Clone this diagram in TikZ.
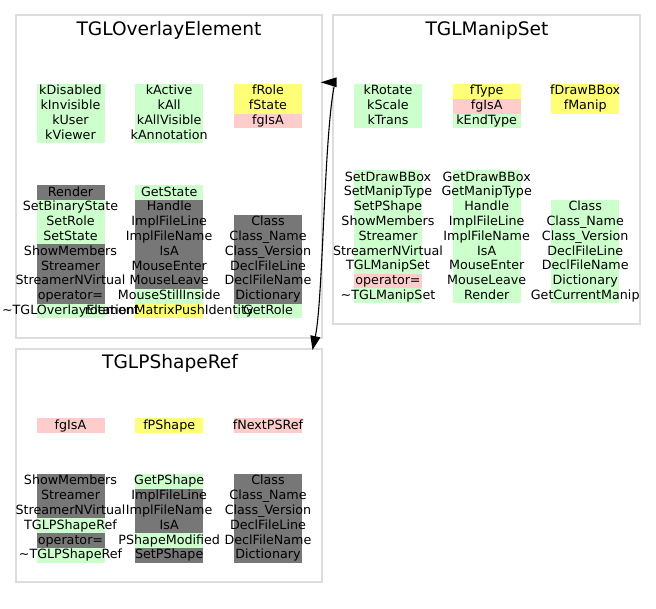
\documentclass[tikz,border=0pt]{standalone}
\usepackage{fontspec}
\setmainfont{DejaVu Sans}
\usetikzlibrary{arrows.meta,backgrounds}

\definecolor{cg}{HTML}{CCFFCC}
\definecolor{cy}{HTML}{FFFF77}
\definecolor{cp}{HTML}{FFCCCC}
\definecolor{cd}{HTML}{777777}
\definecolor{frame}{HTML}{DDDDDD}

\newcommand\memfont{\fontsize{12.7}{14.8}\selectfont}
\newcommand\ttlfont{\fontsize{18.6}{22}\selectfont}

\tikzset{
  classbox/.style={draw=frame, line width=1.3pt, fill=none},
  classtitle/.style={anchor=base, inner sep=0pt, font=\ttlfont},
  member/.style={anchor=base, inner sep=0pt, font=\memfont},
  link/.style={draw=black, line width=1.1pt},
}

% one column of members: #1 name prefix, #2 centre x, #3 top y, #4 colour/text rows
\newcommand\memcol[4]{%
  \foreach [count=\i] \c/\t in {#4} {
    \begin{scope}[on background layer]
      \fill[fill=c\c] ({#2-34},{#3+(\i-1)*14.8}) rectangle ({#2+34},{#3+\i*14.8});
    \end{scope}
    \node[member] (#1-\i) at (#2,{#3+(\i-1)*14.8+11}) {\t};
  }}

\begin{document}
\begin{tikzpicture}[x=1pt,y=-1pt]
\useasboundingbox (0,0) rectangle (656,609);

% class frames
\begin{scope}[on background layer]
  \draw[classbox] (16,15) rectangle (322,338);
  \draw[classbox] (333,15) rectangle (640,324);
  \draw[classbox] (16,349) rectangle (322,582);
\end{scope}

% ---------------- TGLOverlayElement ----------------
\node[classtitle] (oe-title) at (169,36) {TGLOverlayElement};
\memcol{oea}{70.5}{84}{g/kDisabled, g/kInvisible, g/kUser, g/kViewer}
\memcol{oeb}{169.2}{84}{g/kActive, g/kAll, g/kAllVisible, g/kAnnotation}
\memcol{oec}{268}{84}{y/fRole, y/fState, p/fgIsA}
\memcol{oed}{70.5}{185.2}{d/Render, g/SetBinaryState, g/SetRole, g/SetState,
  d/ShowMembers, d/Streamer, d/StreamerNVirtual, d/operator=,
  g/\textasciitilde TGLOverlayElement}
\memcol{oee}{169.2}{185.2}{g/GetState, d/Handle, d/ImplFileLine, d/ImplFileName,
  d/IsA, d/MouseEnter, d/MouseLeave, g/MouseStillInside,
  y/rotationMatrixPushIdentity}
\memcol{oef}{268}{214.8}{d/Class, d/Class\_Name, d/Class\_Version, d/DeclFileLine,
  d/DeclFileName, d/Dictionary, g/GetRole}

% ---------------- TGLManipSet ----------------
\node[classtitle] (ms-title) at (487,36) {TGLManipSet};
\memcol{msa}{388}{84}{g/kRotate, g/kScale, g/kTrans}
\memcol{msb}{486.7}{84}{y/fType, p/fgIsA, g/kEndType}
\memcol{msc}{585.2}{84}{y/fDrawBBox, y/fManip}
\memcol{msd}{388}{170.1}{g/SetDrawBBox, g/SetManipType, g/SetPShape, g/ShowMembers,
  g/Streamer, g/StreamerNVirtual, g/TGLManipSet, p/operator=,
  g/\textasciitilde TGLManipSet}
\memcol{mse}{486.7}{170.1}{g/GetDrawBBox, g/GetManipType, g/Handle, g/ImplFileLine,
  g/ImplFileName, g/IsA, g/MouseEnter, g/MouseLeave, g/Render}
\memcol{msf}{585.2}{199.7}{g/Class, g/Class\_Name, g/Class\_Version, g/DeclFileLine,
  g/DeclFileName, g/Dictionary, g/GetCurrentManip}

% ---------------- TGLPShapeRef ----------------
\node[classtitle] (ps-title) at (170,369) {TGLPShapeRef};
\memcol{psa}{70.5}{418}{p/fgIsA}
\memcol{psb}{169.2}{418}{y/fPShape}
\memcol{psc}{268}{418}{p/fNextPSRef}
\memcol{psd}{70.5}{473.9}{d/ShowMembers, d/Streamer, d/StreamerNVirtual,
  g/TGLPShapeRef, d/operator=, g/\textasciitilde TGLPShapeRef}
\memcol{pse}{169.2}{473.9}{g/GetPShape, d/ImplFileLine, d/ImplFileName, d/IsA,
  g/PShapeModified, d/SetPShape}
\memcol{psf}{268}{473.9}{d/Class, d/Class\_Name, d/Class\_Version, d/DeclFileLine,
  d/DeclFileName, d/Dictionary}

% ---------------- relation ----------------
\coordinate (ms-port) at (334,87);
\coordinate (ms-tip) at (320.7,82.3);
\coordinate (ps-port) at (312.5,350);
\fill (ms-tip) -- ++(16,-5) -- ++(0,10) -- cycle;
\draw[link, -{Triangle[length=14pt,width=10pt]}]
  (ms-port) .. controls (324,140) and (323,300) .. (ps-port);
\end{tikzpicture}
\end{document}
